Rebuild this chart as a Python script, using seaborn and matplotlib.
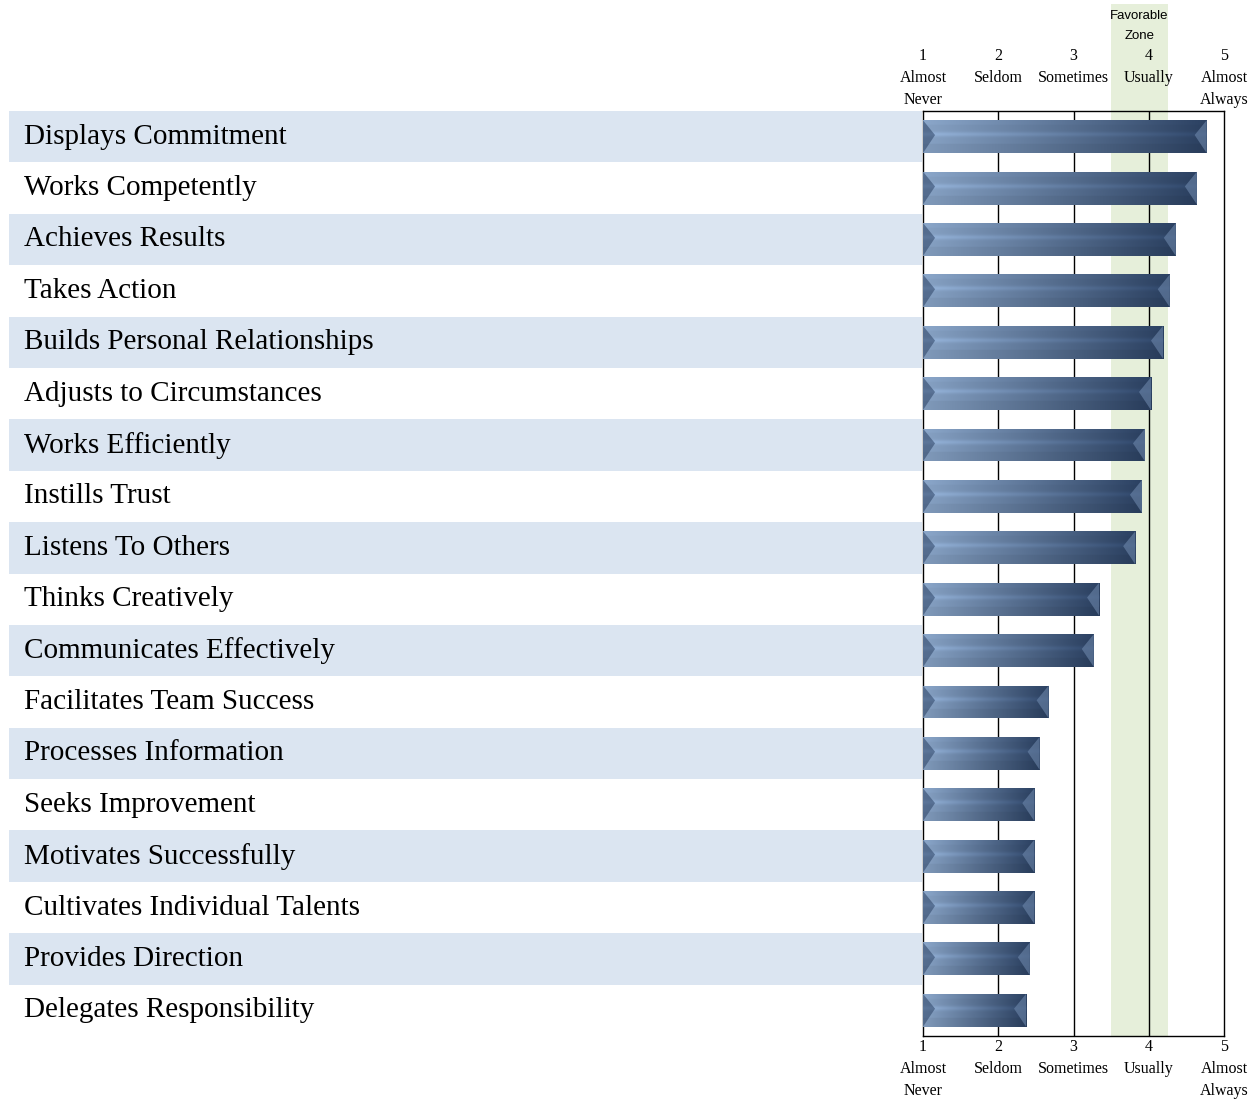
import matplotlib
matplotlib.use("Agg")
import matplotlib.pyplot as plt
import matplotlib.transforms as mtransforms
from matplotlib.patches import Rectangle, Polygon
from matplotlib.colors import to_rgb
import numpy as np
import pandas as pd
import seaborn as sb

# data
competencies = ["Displays Commitment", "Works Competently", "Achieves Results", "Takes Action",
                "Builds Personal Relationships", "Adjusts to Circumstances", "Works Efficiently",
                "Instills Trust", "Listens To Others", "Thinks Creatively", "Communicates Effectively",
                "Facilitates Team Success", "Processes Information", "Seeks Improvement",
                "Motivates Successfully", "Cultivates Individual Talents", "Provides Direction",
                "Delegates Responsibility"]
scores = [4.77, 4.64, 4.36, 4.28, 4.19, 4.03, 3.95, 3.91, 3.82, 3.34, 3.27,
          2.67, 2.55, 2.48, 2.48, 2.48, 2.42, 2.37]
scale_values = [1, 2, 3, 4, 5]
scale_labels = ["Almost\nNever", "Seldom", "Sometimes", "Usually", "Almost\nAlways"]
favorable_zone = (3.5, 4.25)

df = pd.DataFrame({"competency": competencies, "score": scores})

sb.set_style("white")
plt.rcParams["font.family"] = ["Liberation Serif", "DejaVu Serif"]
plt.rcParams["text.color"] = "black"
plt.rcParams["xtick.color"] = "black"

W, H = 1258, 1100
fig = plt.figure(figsize=(W / 100, H / 100), dpi=100)
ax = fig.add_axes([923 / W, (H - 1036) / H, (1224 - 923) / W, (1036 - 111) / H])

sb.barplot(data=df, y="competency", x="score", orient="h", color="#4f6a8f",
           width=0.64, ax=ax, zorder=3)
bars = list(ax.patches)

# grid lines at the scale points
for v in scale_values[1:-1]:
    ax.axvline(v, color="black", lw=1.0, zorder=1)

# bevelled gradient bars
light = np.array(to_rgb("#87a2c4"))
dark = np.array(to_rgb("#2a3f5f"))
nx, ny = 256, 64
gx = np.linspace(0, 1, nx)
gy = np.linspace(0, 1, ny)
base = light[None, None, :] * (1 - gx[None, :, None]) + dark[None, None, :] * gx[None, :, None]
prof = np.ones(ny)
prof += 0.12 * np.exp(-((gy - 0.43) / 0.07) ** 2)
prof -= 0.05 * (gy > 0.72)
prof += 0.03 * (gy < 0.14)
img = np.clip(base * prof[:, None, None], 0, 1)

cap = 0.16
for p in bars:
    y0, w, h = p.get_y(), p.get_width(), p.get_height()
    x0 = 1.0
    w = w - 1.0
    p.set_x(x0)
    p.set_width(w)
    p.set_facecolor("none")
    p.set_edgecolor("none")
    im = ax.imshow(img, extent=(x0, x0 + w, y0 + h, y0), aspect="auto",
                   interpolation="bilinear", zorder=3)
    im.set_clip_path(p)
    ym = y0 + h * 0.45
    ax.add_patch(Polygon([(x0, y0), (x0 + cap, ym), (x0, y0 + h)],
                         closed=True, color="#2c4264", alpha=0.55, lw=0, zorder=4))
    ax.add_patch(Polygon([(x0 + w, y0), (x0 + w - cap, ym), (x0 + w, y0 + h)],
                         closed=True, color="#6d87ab", alpha=0.6, lw=0, zorder=4))

ax.set_xlim(1, 5)
ax.set_ylim(len(competencies) - 0.5, -0.5)

# favorable zone (inside axes and poking above it)
ax.axvspan(*favorable_zone, color="#e6efda", zorder=0, lw=0)
top_ext = Rectangle((favorable_zone[0], (H - 111) / H), favorable_zone[1] - favorable_zone[0],
                    107 / H, transform=mtransforms.blended_transform_factory(ax.transData, fig.transFigure),
                    color="#e6efda", lw=0, clip_on=False, zorder=0)
fig.add_artist(top_ext)
zone_x = ax.transData.transform((sum(favorable_zone) / 2, 0))[0] / W
fig.text(zone_x, (H - 26) / H, "Favorable\nZone", family=["Liberation Sans", "DejaVu Sans"],
         fontsize=9.5, ha="center", va="center", linespacing=1.8)

# alternating row bands and labels on the left
trans = mtransforms.blended_transform_factory(fig.transFigure, ax.transData)
for i, name in enumerate(competencies):
    if i % 2 == 0:
        fig.add_artist(Rectangle((9 / W, i - 0.5), (922 - 9) / W, 1.0, transform=trans,
                                 color="#dbe5f1", lw=0, zorder=0))
    fig.text(24 / W, i, name, transform=trans, fontsize=21, va="center", ha="left")

ax.set_yticks([])
ax.set_ylabel("")
ax.set_xlabel("")

# bottom scale labels
ax.set_xticks(scale_values)
ax.set_xticklabels([f"{v}\n{lab}" for v, lab in zip(scale_values, scale_labels)],
                   fontsize=11.5, linespacing=1.53, va="top")
ax.tick_params(axis="x", length=0, pad=2)

# top scale labels (single-line names padded so they sit on the middle row)
sec = ax.secondary_xaxis("top")
sec.set_xticks(scale_values)
sec.set_xticklabels([f"{v}\n{lab}" + ("" if "\n" in lab else "\n ")
                     for v, lab in zip(scale_values, scale_labels)],
                    fontsize=11.5, linespacing=1.53)
sec.tick_params(length=0, pad=2)
sec.spines["top"].set_visible(False)

for s in ax.spines.values():
    s.set_visible(True)
    s.set_color("black")
    s.set_linewidth(1.0)

fig.savefig("out.png", dpi=100)
